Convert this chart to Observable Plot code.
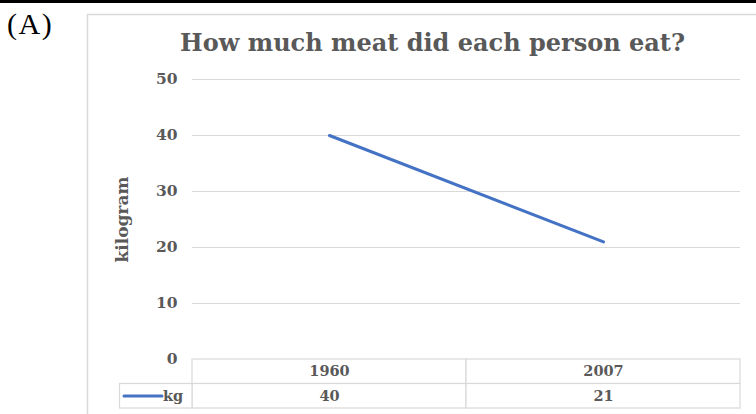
<!DOCTYPE html>
<html><head><meta charset="utf-8">
<script src="https://cdn.jsdelivr.net/npm/d3@7"></script>
<script src="https://cdn.jsdelivr.net/npm/@observablehq/plot@0.6"></script>
<style>body{margin:0;background:#fff;} svg{display:block;}</style>
</head><body><div id="chart"></div>
<script>
const years = ["1960", "2007"];
const kg = [40, 21];
const yTicks = [0, 10, 20, 30, 40, 50];
const gridTicks = [10, 20, 30, 40, 50];
const title = "How much meat did each person eat?";
const yLabel = "kilogram";
const seriesName = "kg";
const panelLabel = "(A)";

const data = years.map((year, i) => ({year, kg: kg[i]}));
const rowH = 24.5 / 5.6; // data-table row height in y units
const txt = "#595959", grid = "#d9d9d9", blue = "#4472C4";
const serif = "'DejaVu Serif', serif";

const chart = Plot.plot({
  width: 756, height: 414,
  marginLeft: 192, marginRight: 16, marginTop: 79, marginBottom: 55,
  style: {fontFamily: serif, color: txt, background: "white", overflow: "visible"},
  x: {type: "band", domain: years, padding: 0, axis: null},
  y: {domain: [0, 50], axis: null},
  marks: [
    Plot.ruleY(gridTicks, {stroke: grid, strokeWidth: 1}),
    Plot.axisY({ticks: yTicks, tickSize: 0, tickPadding: 15, label: null,
      fontSize: 15.5, fontWeight: "bold", fill: txt, fontFamily: serif}),
    Plot.text([yLabel], {frameAnchor: "left", dx: -70, rotate: -90, lineAnchor: "middle",
      textAnchor: "middle", fontSize: 17, fontWeight: "bold", fill: txt, letterSpacing: 0.8}),
    Plot.text([title], {frameAnchor: "top", dx: -34, dy: -36, lineAnchor: "middle",
      fontSize: 24, fontWeight: "bold", fill: txt}),
    Plot.barY(data, {x: "year", y1: 0, y2: -rowH, fill: "white", stroke: grid, strokeWidth: 1.2}),
    Plot.barY(data, {x: "year", y1: -rowH, y2: -2 * rowH, fill: "white", stroke: grid, strokeWidth: 1.2}),
    Plot.text(data, {x: "year", y: -rowH / 2, text: "year", fontSize: 14.5, fontWeight: "bold", fill: txt}),
    Plot.text(data, {x: "year", y: -1.5 * rowH, text: d => String(d.kg), fontSize: 14.5, fontWeight: "bold", fill: txt}),
    Plot.line(data, {x: "year", y: "kg", stroke: blue, strokeWidth: 3})
  ]
});

const svg = d3.select(chart);
// outer chart frame
svg.insert("rect", ":first-child").attr("x", 87.5).attr("y", 14.5).attr("width", 700).attr("height", 420)
  .attr("fill", "white").attr("stroke", grid).attr("stroke-width", 1.5);
// black top bar
svg.append("rect").attr("x", 0).attr("y", 0).attr("width", 756).attr("height", 3).attr("fill", "#000");
// panel label
svg.append("text").attr("x", 7).attr("y", 34).attr("text-anchor", "start")
  .attr("font-family", "'Liberation Serif', serif").attr("font-size", 30)
  .attr("letter-spacing", 1.5).attr("fill", "#000").text(panelLabel);
// legend cell of the data table
const g = svg.append("g");
g.append("rect").attr("x", 119.5).attr("y", 383.5).attr("width", 72.5).attr("height", 24.5)
  .attr("fill", "white").attr("stroke", grid).attr("stroke-width", 1.2);
g.append("line").attr("x1", 124).attr("x2", 162).attr("y1", 396).attr("y2", 396)
  .attr("stroke", blue).attr("stroke-width", 3).attr("stroke-linecap", "round");
g.append("text").attr("x", 163).attr("y", 396).attr("dy", "0.32em").attr("text-anchor", "start")
  .attr("font-family", serif).attr("font-size", 14.5).attr("font-weight", "bold")
  .attr("fill", txt).text(seriesName);

document.getElementById("chart").appendChild(chart);
</script>
</body></html>
